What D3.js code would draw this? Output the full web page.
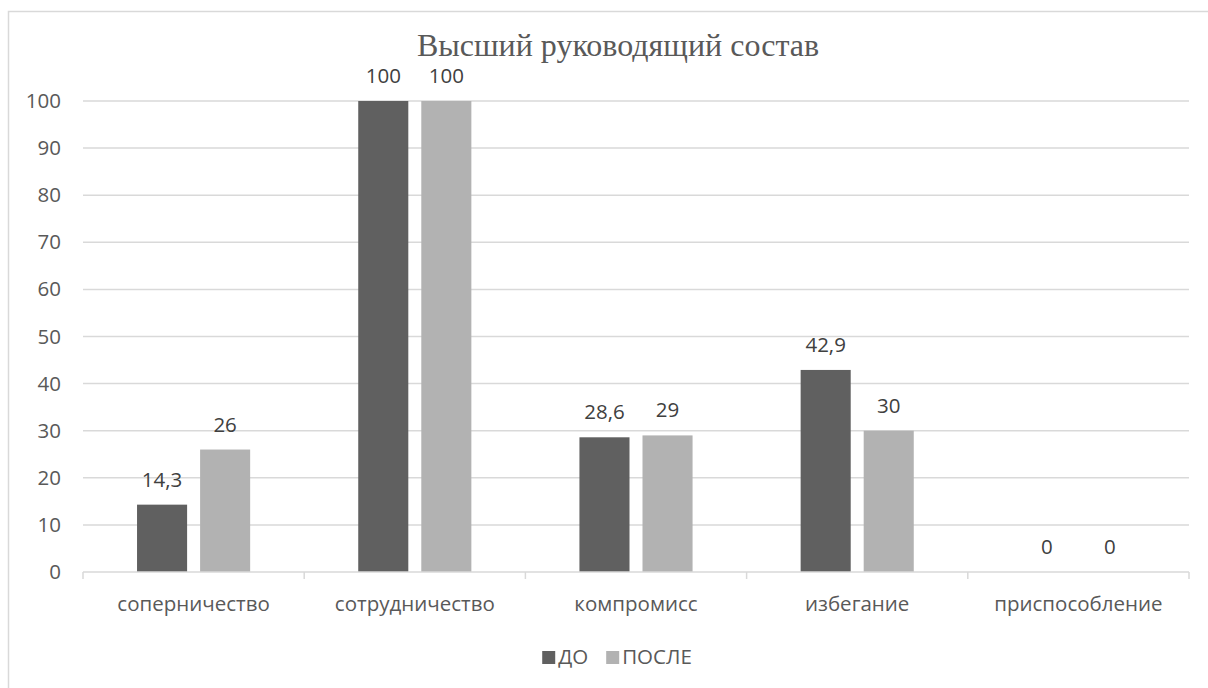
<!DOCTYPE html>
<html>
<head>
<meta charset="utf-8">
<script src="https://cdn.jsdelivr.net/npm/d3@7"></script>
<style>
  html, body { margin: 0; padding: 0; background: #fff; }
  svg { display: block; }
</style>
</head>
<body>
<svg id="chart" width="1208" height="688"></svg>
<script>
// Chart data
const title = "Высший руководящий состав";
const categories = ["соперничество", "сотрудничество", "компромисс", "избегание", "приспособление"];
const seriesNames = ["ДО", "ПОСЛЕ"];
const valuesBefore = [14.3, 100, 28.6, 42.9, 0];
const valuesAfter = [26, 100, 29, 30, 0];
const yTicks = [0, 10, 20, 30, 40, 50, 60, 70, 80, 90, 100];
const seriesColors = ["#606060", "#b2b2b2"];

const series = [valuesBefore, valuesAfter];
const fmt = v => String(v).replace(".", ",");

const svg = d3.select("#chart");
const sans = "'Open Sans', 'Noto Sans', sans-serif";
const fontSize = 20.5;
const textColor = "#595959";
const gridColor = "#d9d9d9";

// Outer chart frame
svg.append("rect")
  .attr("x", 8.5).attr("y", 11.5)
  .attr("width", 1230).attr("height", 700)
  .attr("fill", "#fff")
  .attr("stroke", "#d9d9d9").attr("stroke-width", 1.5);

const plot = { left: 83, right: 1189, top: 101, bottom: 572 };

const x0 = d3.scaleBand().domain(categories).range([plot.left, plot.right]).padding(0);
const x1 = d3.scaleBand().domain(seriesNames).range([0, x0.bandwidth()])
  .paddingInner(0.206).paddingOuter(0.857);
const y = d3.scaleLinear().domain([0, 100]).range([plot.bottom, plot.top]);

// Horizontal gridlines
svg.append("g").selectAll("line")
  .data(yTicks.filter(t => t > 0))
  .join("line")
  .attr("x1", plot.left).attr("x2", plot.right)
  .attr("y1", d => y(d)).attr("y2", d => y(d))
  .attr("stroke", gridColor).attr("stroke-width", 1.5);

// Y axis labels
const yAxis = d3.axisLeft(y).tickValues(yTicks).tickSize(0).tickPadding(22);
const gy = svg.append("g").attr("transform", `translate(${plot.left},0)`).call(yAxis);
gy.select(".domain").remove();
gy.selectAll("text")
  .attr("font-family", sans).attr("font-size", fontSize).attr("fill", textColor);

// Bars
const groups = svg.append("g").selectAll("g")
  .data(categories)
  .join("g")
  .attr("transform", d => `translate(${x0(d)},0)`);

groups.selectAll("rect")
  .data((c, i) => seriesNames.map((s, j) => ({ s, v: series[j][i], j })))
  .join("rect")
  .attr("x", d => x1(d.s))
  .attr("y", d => y(d.v))
  .attr("width", x1.bandwidth())
  .attr("height", d => y(0) - y(d.v))
  .attr("fill", d => seriesColors[d.j]);

// Value labels
groups.selectAll("text")
  .data((c, i) => seriesNames.map((s, j) => ({ s, v: series[j][i], j })))
  .join("text")
  .attr("x", d => x1(d.s) + x1.bandwidth() / 2)
  .attr("y", d => y(d.v) - 18)
  .attr("text-anchor", "middle")
  .attr("font-family", sans).attr("font-size", fontSize).attr("fill", "#404040")
  .text(d => fmt(d.v));

// X axis with category boundary ticks
const gx = svg.append("g").attr("transform", `translate(0,${plot.bottom})`);
gx.append("line")
  .attr("x1", plot.left).attr("x2", plot.right)
  .attr("y1", 0).attr("y2", 0)
  .attr("stroke", gridColor).attr("stroke-width", 1.5);
const bounds = categories.map(c => x0(c)).concat([plot.right]);
gx.selectAll("line.tick")
  .data(bounds)
  .join("line")
  .attr("class", "tick")
  .attr("x1", d => d).attr("x2", d => d)
  .attr("y1", 0).attr("y2", 7)
  .attr("stroke", gridColor).attr("stroke-width", 1.5);
gx.selectAll("text")
  .data(categories)
  .join("text")
  .attr("x", d => x0(d) + x0.bandwidth() / 2)
  .attr("y", 39)
  .attr("text-anchor", "middle")
  .attr("font-family", sans).attr("font-size", fontSize).attr("fill", textColor)
  .text(d => d);

// Title
svg.append("text")
  .attr("x", 618).attr("y", 56)
  .attr("text-anchor", "middle")
  .attr("font-family", "'Liberation Serif', 'Times New Roman', serif")
  .attr("font-size", 32).attr("fill", textColor)
  .text(title);

// Legend
const legend = svg.append("g");
const items = legend.selectAll("g")
  .data(seriesNames)
  .join("g");
items.append("rect")
  .attr("width", 13).attr("height", 13)
  .attr("y", -13)
  .attr("fill", (d, i) => seriesColors[i]);
items.append("text")
  .attr("x", 16).attr("y", 0)
  .attr("font-family", sans).attr("font-size", fontSize).attr("fill", textColor)
  .text(d => d);
let offset = 0;
const widths = [];
items.each(function () {
  widths.push(this.getBBox().width);
});
items.attr("transform", (d, i) => {
  const tx = offset;
  offset += widths[i] + 18;
  return `translate(${tx},0)`;
});
const totalW = offset - 18;
legend.attr("transform", `translate(${617 - totalW / 2},664)`);
</script>
</body>
</html>
